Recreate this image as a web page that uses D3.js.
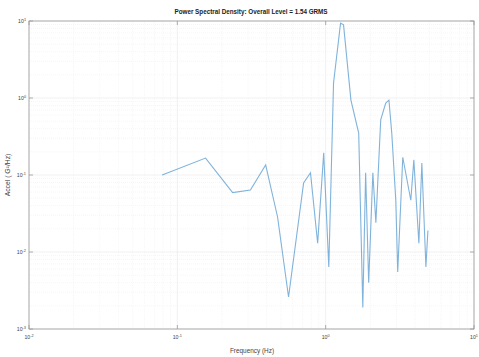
<!DOCTYPE html>
<html><head><meta charset="utf-8">
<script src="https://cdn.jsdelivr.net/npm/d3@7"></script>
<style>body{margin:0;background:#fff}svg{display:block}text{font-family:"Liberation Sans",Arial,sans-serif}</style>
</head><body>
<script>
const freq = [0.079,0.155,0.236,0.311,0.394,0.474,0.562,0.71,0.79,0.883,0.97,1.05,1.13,1.26,1.32,1.48,1.67,1.78,1.86,1.95,2.08,2.18,2.35,2.54,2.67,2.79,2.97,3.06,3.31,3.75,3.93,4.25,4.45,4.74,4.89];
const psd  = [0.1,0.166,0.059,0.064,0.135,0.0285,0.0026,0.079,0.107,0.013,0.194,0.0064,1.57,9.4,8.9,0.94,0.35,0.0019,0.107,0.004,0.107,0.024,0.52,0.86,0.94,0.35,0.047,0.0055,0.17,0.047,0.157,0.013,0.143,0.0064,0.019];
const xTickExp = [-2,-1,0,1];
const yTickExp = [-3,-2,-1,0,1];
const title = "Power Spectral Density: Overall Level =  1.54 GRMS";
const xLabel = "Frequency (Hz)";
const yLabel = "Accel ( G\u00B2/Hz)";

const W=479,H=357, L=29,R=474,T=21,B=329;
const svg=d3.select("body").append("svg").attr("width",W).attr("height",H);
const x=d3.scaleLog().domain([1e-2,1e1]).range([L,R]);
const y=d3.scaleLog().domain([1e-3,1e1]).range([B,T]);

// grid
const g=svg.append("g");
const minorX=[],minorY=[];
for(let e=-2;e<1;e++)for(let k=2;k<10;k++)minorX.push(k*Math.pow(10,e));
for(let e=-3;e<1;e++)for(let k=2;k<10;k++)minorY.push(k*Math.pow(10,e));
g.selectAll(".mx").data(minorX).join("line").attr("x1",d=>x(d)).attr("x2",d=>x(d)).attr("y1",T).attr("y2",B).attr("stroke","#f0f0f0").attr("stroke-width",0.6).attr("stroke-dasharray","1,1");
g.selectAll(".my").data(minorY).join("line").attr("y1",d=>y(d)).attr("y2",d=>y(d)).attr("x1",L).attr("x2",R).attr("stroke","#f0f0f0").attr("stroke-width",0.6).attr("stroke-dasharray","1,1");
g.selectAll(".Mx").data(xTickExp).join("line").attr("x1",d=>x(Math.pow(10,d))).attr("x2",d=>x(Math.pow(10,d))).attr("y1",T).attr("y2",B).attr("stroke","#e8e8e8").attr("stroke-width",0.6);
g.selectAll(".My").data(yTickExp).join("line").attr("y1",d=>y(Math.pow(10,d))).attr("y2",d=>y(Math.pow(10,d))).attr("x1",L).attr("x2",R).attr("stroke","#e8e8e8").attr("stroke-width",0.6);

// line
const line=d3.line().x((d,i)=>x(freq[i])).y((d,i)=>y(psd[i]));
svg.append("path").datum(psd).attr("d",line).attr("fill","none").attr("stroke","#4a93cc").attr("stroke-opacity",0.7).attr("stroke-width",1.1);

// axes box
const ax=svg.append("g");
ax.append("rect").attr("x",L).attr("y",T).attr("width",R-L).attr("height",B-T).attr("fill","none").attr("stroke","#9a9a9a").attr("stroke-width",0.8);
ax.selectAll(".tx").data(xTickExp).join("line").attr("x1",d=>x(Math.pow(10,d))).attr("x2",d=>x(Math.pow(10,d))).attr("y1",B).attr("y2",B-4).attr("stroke","#9a9a9a").attr("stroke-width",0.8);
ax.selectAll(".tx2").data(xTickExp).join("line").attr("x1",d=>x(Math.pow(10,d))).attr("x2",d=>x(Math.pow(10,d))).attr("y1",T).attr("y2",T+4).attr("stroke","#9a9a9a").attr("stroke-width",0.8);
ax.selectAll(".ty").data(yTickExp).join("line").attr("y1",d=>y(Math.pow(10,d))).attr("y2",d=>y(Math.pow(10,d))).attr("x1",L).attr("x2",L+4).attr("stroke","#9a9a9a").attr("stroke-width",0.8);
ax.selectAll(".ty2").data(yTickExp).join("line").attr("y1",d=>y(Math.pow(10,d))).attr("y2",d=>y(Math.pow(10,d))).attr("x1",R).attr("x2",R-4).attr("stroke","#9a9a9a").attr("stroke-width",0.8);

function pow10Label(sel){
  sel.each(function(d){
    const t=d3.select(this);
    t.append("tspan").text("10");
    t.append("tspan").attr("dy",-2.5).attr("font-size",3.8).text(d);
  });
}
ax.selectAll(".lx").data(xTickExp).join("text").attr("x",d=>x(Math.pow(10,d))).attr("y",B+10).attr("text-anchor","middle").attr("font-size",5.2).attr("fill","#444").call(pow10Label);
ax.selectAll(".ly").data(yTickExp).join("text").attr("x",L-3).attr("y",d=>y(Math.pow(10,d))+2).attr("text-anchor","end").attr("font-size",5.2).attr("fill","#444").call(pow10Label);

svg.append("text").attr("x",251).attr("y",14).attr("text-anchor","middle").attr("font-size",6.3).attr("font-weight","bold").attr("fill","#222").text(title);
svg.append("text").attr("x",252).attr("y",353).attr("text-anchor","middle").attr("font-size",6.4).attr("fill","#444").text(xLabel);
svg.append("text").attr("transform",`translate(10,${(T+B)/2}) rotate(-90)`).attr("text-anchor","middle").attr("font-size",6.8).attr("fill","#444").text(yLabel);
</script>
</body></html>
